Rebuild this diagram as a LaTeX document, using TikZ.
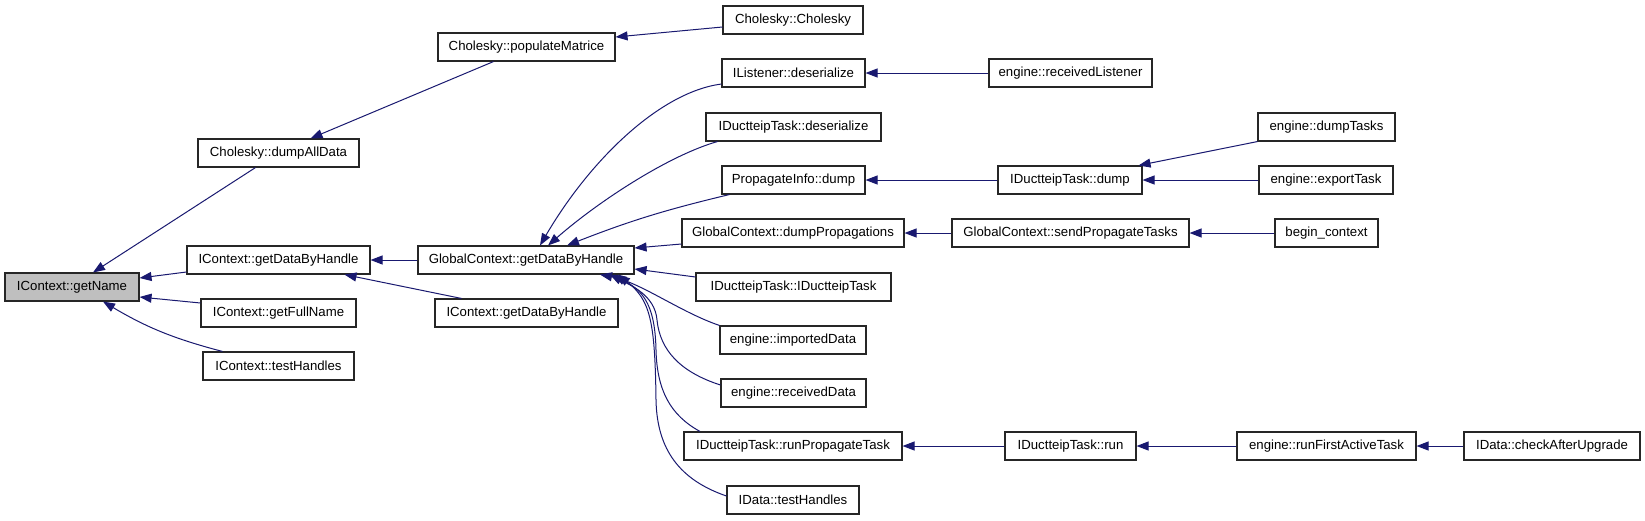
\documentclass[tikz,border=0pt]{standalone}
\usepackage{fontspec}
\setmainfont{Liberation Sans}
\usetikzlibrary{arrows.meta,calc}
\definecolor{edgec}{HTML}{191970}
\definecolor{greyf}{HTML}{BFBFBF}
\newcommand\bx[7][]{\node[box,#1,minimum width={(#5-#3)*1pt},minimum height={(#6-#4)*1pt}] (#2) at ({(#3+#5)/2},{(#4+#6)/2}) {#7};}
\begin{document}
\begin{tikzpicture}[x=1pt,y=-1pt,
 box/.style={draw=black!85,line width=1.1pt,fill=white,inner sep=0pt,font=\fontsize{13.2}{15}\selectfont,anchor=center},
 edge/.style={draw=edgec,line width=1pt,-{Triangle[length=12pt,width=9pt]}}]
\useasboundingbox[fill=white] (0,0) rectangle (1645,520);
\bx[fill=greyf]{getName}{5}{273}{139}{301}{IContext::getName}
\bx{popMat}{438}{33}{615}{61}{Cholesky::populateMatrice}
\bx{dumpAll}{198}{139}{359}{167}{Cholesky::dumpAllData}
\bx{ICgetL}{187}{246}{370}{274}{IContext::getDataByHandle}
\bx{fullName}{201}{299}{356}{327}{IContext::getFullName}
\bx{ICtest}{203}{352}{354}{380}{IContext::testHandles}
\bx{GC}{418}{246}{634}{274}{GlobalContext::getDataByHandle}
\bx{ICgetR}{435}{299}{618}{327}{IContext::getDataByHandle}
\bx{Chol}{723}{6}{863}{34}{Cholesky::Cholesky}
\bx{IListDes}{722}{59}{865}{87}{IListener::deserialize}
\bx{recvList}{989}{59}{1152}{87}{engine::receivedListener}
\bx{IDTdes}{706}{113}{881}{141}{IDuctteipTask::deserialize}
\bx{PIdump}{722}{166}{865}{194}{PropagateInfo::dump}
\bx{IDTdump}{998}{166}{1142}{194}{IDuctteipTask::dump}
\bx{GCdumpP}{682}{219}{904}{247}{GlobalContext::dumpPropagations}
\bx{GCsend}{952}{219}{1189}{247}{GlobalContext::sendPropagateTasks}
\bx{IDTctor}{696}{273}{891}{301}{IDuctteipTask::IDuctteipTask}
\bx{impData}{720}{326}{866}{354}{engine::importedData}
\bx{recvData}{721}{379}{866}{407}{engine::receivedData}
\bx{runProp}{684}{432}{902}{460}{IDuctteipTask::runPropagateTask}
\bx{IDTrun}{1005}{432}{1136}{460}{IDuctteipTask::run}
\bx{IDtest}{727}{486}{859}{514}{IData::testHandles}
\bx{dumpTasks}{1258}{113}{1395}{141}{engine::dumpTasks}
\bx{exportTask}{1259}{166}{1393}{194}{engine::exportTask}
\bx{beginCtx}{1275}{219}{1378}{247}{begin\_context}
\bx{runFirst}{1237}{432}{1416}{460}{engine::runFirstActiveTask}
\bx{checkAfter}{1464}{432}{1640}{460}{IData::checkAfterUpgrade}
% edges
\draw[edge] ([xshift=-23pt]dumpAll.south) -- ([xshift=21pt]getName.north);
\draw[edge] ([yshift=-12pt]ICgetL.west) -- ([yshift=9pt]getName.east);
\draw[edge] ([yshift=10pt]fullName.west) -- ([yshift=-10pt]getName.east);
\draw[edge] ([xshift=-56pt]ICtest.north) to[bend left=8] ([xshift=31pt]getName.south);
\draw[edge] ([xshift=-33pt]popMat.south) -- ([xshift=32pt]dumpAll.north);
\draw[edge] ([yshift=-7pt]Chol.west) -- ([yshift=10pt]popMat.east);
\draw[edge] (GC.west) -- (ICgetL.east);
\draw[edge] ([xshift=-65pt]ICgetR.north) -- ([xshift=66pt]ICgetL.south);
\draw[edge] ([yshift=-11pt]IListDes.west) .. controls (660,92) and (590,160) .. ([xshift=14pt]GC.north);
\draw[edge] ([xshift=12pt]IDTdes.south west) .. controls (670,155) and (600,200) .. ([xshift=22pt]GC.north);
\draw[edge] ([xshift=8pt]PIdump.south west) to[bend right=4] ([xshift=41pt]GC.north);
\draw[edge] ([yshift=-11pt]GCdumpP.west) -- ([yshift=12pt]GC.east);
\draw[edge] ([yshift=10pt]IDTctor.west) -- ([yshift=-9pt]GC.east);
\draw[edge] (impData.north west) .. controls (680,312) and (640,282) .. ([xshift=74pt]GC.south);
\draw[edge] ([yshift=8pt]recvData.west) .. controls (680,372) and (660,350) .. (657,320) .. controls (655,295) and (630,285) .. ([xshift=84pt]GC.south);
\draw[edge] ([xshift=-93pt]runProp.north) .. controls (670,415) and (657,390) .. (656,350) .. controls (655,300) and (640,290) .. ([xshift=88pt]GC.south);
\draw[edge] ([yshift=4pt]IDtest.west) .. controls (680,480) and (657,450) .. (656,400) .. controls (655,320) and (650,300) .. ([xshift=92pt]GC.south);
\draw[edge] (recvList.west) -- (IListDes.east);
\draw[edge] (IDTdump.west) -- (PIdump.east);
\draw[edge] (dumpTasks.south west) -- ([xshift=-4pt]IDTdump.north east);
\draw[edge] (exportTask.west) -- (IDTdump.east);
\draw[edge] (GCsend.west) -- (GCdumpP.east);
\draw[edge] (beginCtx.west) -- (GCsend.east);
\draw[edge] (IDTrun.west) -- (runProp.east);
\draw[edge] (runFirst.west) -- (IDTrun.east);
\draw[edge] (checkAfter.west) -- (runFirst.east);
\end{tikzpicture}
\end{document}
